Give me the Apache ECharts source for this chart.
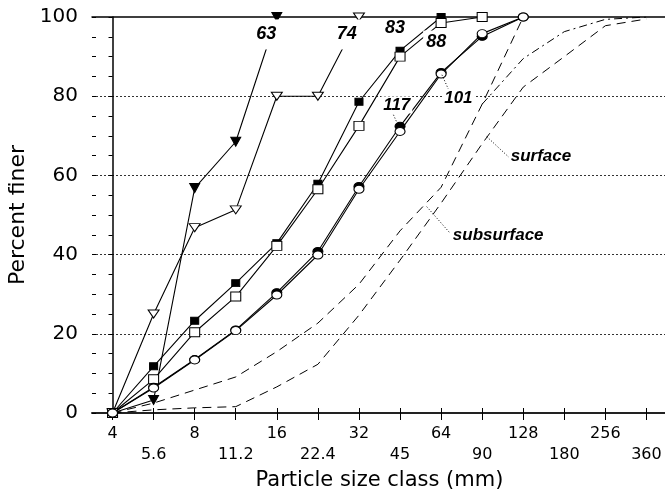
<!DOCTYPE html>
<html>
<head>
<meta charset="utf-8">
<script src="https://cdn.jsdelivr.net/npm/echarts@6/dist/echarts.min.js"></script>
<style>
  html, body { margin: 0; padding: 0; background: #fff; }
  #chart { width: 665px; height: 491px; }
</style>
</head>
<body>
<div id="chart"></div>
<script>
// Particle size classes (mm), half-phi steps
const sizes = ['4', '5.6', '8', '11.2', '16', '22.4', '32', '45', '64', '90', '128', '180', '256', '360'];
const yTicks = [0, 20, 40, 60, 80, 100];

// Cumulative percent finer for each sample
const s63 = [0, 3.3, 56.8, 68.5, 100];
const s74 = [0, 25, 46.8, 51.3, 80, 80, 100];
const s83 = [0, 11.8, 23.3, 32.8, 42.9, 57.9, 78.6, 91.5, 100];
const s88 = [0, 8.5, 20.4, 29.4, 42.2, 56.5, 72.5, 90, 98.5, 100];
const s117 = [0, 6.5, 13.5, 21, 30.4, 40.8, 57.2, 72.4, 86, 95.1, 100];
const s101 = [0, 6.3, 13.4, 20.8, 29.8, 39.9, 56.5, 71.1, 85.6, 95.8, 100];

// Bed material reference curves
const subsurface = [0, 2.5, 5.8, 9.1, 15.5, 22.7, 32.5, 46, 57, 78, 100];
const surface = [0, 0.8, 1.3, 1.6, 6.6, 12.3, 24.7, 38.6, 53, 68, 82.3, 90, 97.8, 99.5];
const coarseTail = [null, null, null, null, null, null, null, null, null, 78, 89.5, 96.3, 99.4, 100];

const FONT = 'DejaVu Sans';
const ITAL = 'Liberation Sans';

// Curve tags, placed in class-index / percent space
const tags = [
  { text: '63', at: [3.74, 95.6], size: 18, pad: [1, 5, 11, 5] },
  { text: '74', at: [5.70, 95.6], size: 18, pad: [1, 5, 11, 5] },
  { text: '83', at: [6.88, 97.1], size: 18, pad: [1, 3, 2, 3] },
  { text: '88', at: [7.88, 93.8], size: 18, pad: [2, 3, 2, 3] },
  { text: '117', at: [6.92, 77.8], size: 17, pad: [0, 2, 0, 2] },
  { text: '101', at: [8.42, 79.5], size: 17, pad: [1, 2, 1, 2] },
  { text: 'surface', at: [10.43, 64.7], size: 17, pad: [1, 2, 1, 2] },
  { text: 'subsurface', at: [9.39, 44.9], size: 17, pad: [1, 2, 1, 2] }
];
// Dotted leaders from tags to their curves
const leaders = [
  [[6.84, 75.3], [6.96, 72.5]],
  [[8.02, 85.4], [8.18, 81.7]],
  [[9.11, 69.8], [9.68, 64.3]],
  [[7.65, 52.1], [8.22, 45.4]]
];

const black = '#000';

function sampleSeries(data, symbol, size, filled, rotate) {
  return {
    type: 'line',
    data: data,
    xAxisIndex: 0,
    yAxisIndex: 0,
    symbol: symbol,
    symbolSize: size,
    symbolRotate: rotate || 0,
    showAllSymbol: true,
    lineStyle: { color: black, width: 1.1 },
    itemStyle: { color: filled ? black : '#fff', borderColor: black, borderWidth: 1 },
    emphasis: { disabled: true },
    animation: false,
    z: 4
  };
}

function refSeries(data, dash) {
  return {
    type: 'line',
    data: data,
    xAxisIndex: 0,
    yAxisIndex: 0,
    symbol: 'none',
    lineStyle: { color: black, width: 1, type: dash },
    emphasis: { disabled: true },
    animation: false,
    z: 3
  };
}

const leaderData = [];
leaders.forEach(function (seg, i) {
  if (i > 0) leaderData.push(['-', '-']);
  leaderData.push(seg[0], seg[1]);
});

const option = {
  backgroundColor: '#fff',
  animation: false,
  grid: { left: 92, top: 17, width: 575, height: 396, containLabel: false, outerBoundsMode: 'none' },
  xAxis: [
    {
      type: 'category',
      data: sizes,
      position: 'bottom',
      boundaryGap: true,
      name: 'Particle size class (mm)',
      nameLocation: 'middle',
      nameGap: 50,
      nameTextStyle: { fontFamily: FONT, fontSize: 21, color: black },
      axisLine: { show: true, lineStyle: { color: '#222', width: 2 } },
      axisTick: { show: true, alignWithLabel: true, interval: 0, length: 7, lineStyle: { color: black, width: 1 } },
      axisLabel: {
        interval: 0,
        margin: 10,
        fontFamily: FONT,
        fontSize: 16,
        lineHeight: 21,
        color: black,
        formatter: function (v, i) { return i % 2 === 1 ? '\n' + v : v; }
      },
      splitLine: { show: false }
    },
    {
      type: 'category',
      data: sizes,
      position: 'bottom',
      boundaryGap: true,
      axisLine: { show: false },
      axisTick: { show: true, inside: true, alignWithLabel: true, interval: 0, length: 5, lineStyle: { color: black, width: 1 } },
      axisLabel: { show: false },
      splitLine: { show: false }
    },
    {
      type: 'value',
      position: 'top',
      min: -0.5,
      max: 13.5,
      axisLine: { show: true, onZero: false, lineStyle: { color: black, width: 1.5 } },
      axisTick: { show: false },
      axisLabel: { show: false },
      splitLine: { show: false }
    }
  ],
  yAxis: [
    {
      type: 'value',
      min: yTicks[0],
      max: yTicks[yTicks.length - 1],
      interval: yTicks[1] - yTicks[0],
      name: 'Percent finer',
      nameLocation: 'middle',
      nameGap: 49,
      nameRotate: 90,
      nameTextStyle: { fontFamily: FONT, fontSize: 22, color: black },
      axisLine: { show: true, lineStyle: { color: black, width: 1.5 } },
      axisTick: { show: true, length: 4, lineStyle: { color: black, width: 1 } },
      minorTick: { show: true, splitNumber: 4, length: 4, lineStyle: { color: black, width: 1 } },
      axisLabel: { margin: 14, fontFamily: FONT, fontSize: 20, color: black },
      splitLine: {
        show: true,
        showMinLine: false,
        showMaxLine: false,
        lineStyle: { color: '#333', width: 1, type: [2, 2] }
      }
    },
    {
      type: 'value',
      min: yTicks[0],
      max: yTicks[yTicks.length - 1],
      interval: yTicks[1] - yTicks[0],
      position: 'left',
      offset: 0,
      axisLine: { show: false },
      axisTick: { show: true, inside: true, length: 4, lineStyle: { color: black, width: 1 } },
      minorTick: { show: true, splitNumber: 4, length: 4, lineStyle: { color: black, width: 1 } },
      axisLabel: { show: false },
      splitLine: { show: false }
    }
  ],
  series: [
    refSeries(subsurface, [9, 6]),
    refSeries(surface, [9, 6]),
    refSeries(coarseTail, [8, 4, 2, 4]),
    sampleSeries(s63, 'triangle', [10, 9], true, 180),
    sampleSeries(s74, 'triangle', [11, 8], false, 180),
    sampleSeries(s83, 'rect', [8, 7], true),
    sampleSeries(s88, 'rect', [10, 9], false),
    sampleSeries(s117, 'circle', [10, 8], true),
    sampleSeries(s101, 'circle', [10, 8], false),
    {
      type: 'line',
      xAxisIndex: 2,
      yAxisIndex: 0,
      data: leaderData,
      connectNulls: false,
      symbol: 'none',
      lineStyle: { color: black, width: 1, type: [1, 2] },
      emphasis: { disabled: true },
      animation: false,
      z: 5
    },
    {
      type: 'custom',
      coordinateSystem: 'cartesian2d',
      xAxisIndex: 2,
      yAxisIndex: 0,
      silent: true,
      z: 20,
      data: tags.map(function (t) { return t.at; }),
      renderItem: function (params, api) {
        const t = tags[params.dataIndex];
        const p = api.coord([api.value(0), api.value(1)]);
        return {
          type: 'text',
          x: p[0],
          y: p[1],
          z2: 100,
          style: {
            text: t.text,
            font: 'italic bold ' + t.size + 'px "' + ITAL + '"',
            fill: black,
            align: 'center',
            verticalAlign: 'middle',
            backgroundColor: '#fff',
            padding: t.pad
          }
        };
      },
      animation: false
    }
  ]
};

const chart = echarts.init(document.getElementById('chart'), null, { renderer: 'canvas' });
chart.setOption(option);
</script>
</body>
</html>
